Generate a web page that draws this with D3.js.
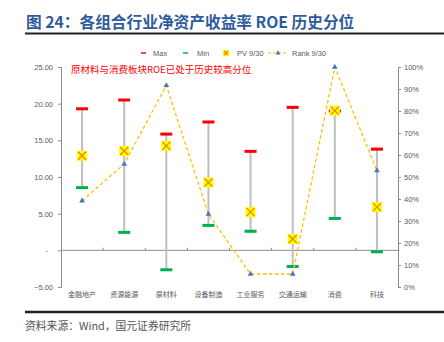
<!DOCTYPE html>
<html><head><meta charset="utf-8">
<script src="https://cdn.jsdelivr.net/npm/d3@7"></script>
<style>body{margin:0;background:#fff;}svg{display:block;}</style>
</head><body>
<svg id="c" width="444" height="342"></svg>
<script>
const categories = ["金融地产","资源能源","原材料","设备制造","工业服务","交通运输","消费","科技"];
const maxVals = [19.3, 20.5, 15.85, 17.5, 13.5, 19.5, 19.0, 13.8];
const minVals = [8.55, 2.45, -2.65, 3.4, 2.6, -2.2, 4.35, -0.2];
const pvVals = [12.9, 13.55, 14.25, 9.25, 5.2, 1.55, 19.05, 5.9];
const rankVals = [0.392, 0.559, 0.916, 0.331, 0.059, 0.059, 1.0, 0.529];
const leftTicks = [-5, 0, 5, 10, 15, 20, 25];
const rightTicks = [0, 0.1, 0.2, 0.3, 0.4, 0.5, 0.6, 0.7, 0.8, 0.9, 1.0];

const svg = d3.select("#c");
const latin = "'Liberation Sans', Arial, sans-serif";
const cjk = "'Noto Sans CJK SC', sans-serif";
const gray = "#595959";

const x = d3.scaleBand().domain(categories).range([61, 398]);
const y = d3.scaleLinear().domain([-5, 25]).range([287, 67]);
const yr = d3.scaleLinear().domain([0, 1]).range([287, 67]);
const cx = d => x(d) + x.bandwidth() / 2;

// title
svg.append("text").attr("x", 26).attr("y", 28).attr("font-family", cjk).attr("font-weight", "bold")
  .attr("font-size", 15.7).attr("fill", "#2E5B9C").text("图 24：各组合行业净资产收益率 ROE 历史分位");
svg.append("line").attr("x1", 25).attr("x2", 444).attr("y1", 33.5).attr("y2", 33.5).attr("stroke", "#222").attr("stroke-width", 2);

// bottom
svg.append("line").attr("x1", 25).attr("x2", 444).attr("y1", 312).attr("y2", 312).attr("stroke", "#222").attr("stroke-width", 2.5);
svg.append("text").attr("x", 25).attr("y", 330).attr("font-family", cjk).attr("font-size", 10.8).attr("fill", "#555")
  .text("资料来源：Wind，国元证券研究所");

// axes
const la = svg.append("g").attr("transform", "translate(61,0)")
  .call(d3.axisLeft(y).tickValues(leftTicks).tickSize(3).tickPadding(5)
    .tickFormat(d => d === 0 ? "-" : d3.format(".2f")(d)));
const ra = svg.append("g").attr("transform", "translate(398,0)")
  .call(d3.axisRight(yr).tickValues(rightTicks).tickSize(3).tickPadding(3).tickFormat(d3.format(".0%")));
[la, ra].forEach(g => {
  g.select(".domain").attr("stroke", "#8c8c8c");
  g.selectAll(".tick line").attr("stroke", "#8c8c8c");
  g.selectAll(".tick text").attr("font-family", latin).attr("font-size", 7.5).attr("fill", gray);
});
la.selectAll(".tick text").attr("dx", d => d === 0 ? -5 : 0);

// x axis line at 0
svg.append("line").attr("x1", 61).attr("x2", 398).attr("y1", y(0)).attr("y2", y(0)).attr("stroke", "#8c8c8c");
svg.append("g").selectAll("line").data(categories.slice(1)).join("line")
  .attr("x1", d => x(d)).attr("x2", d => x(d)).attr("y1", y(0) - 2.5).attr("y2", y(0)).attr("stroke", "#8c8c8c");
svg.append("g").selectAll("text").data(categories).join("text")
  .attr("x", d => cx(d)).attr("y", 297).attr("text-anchor", "middle")
  .attr("font-family", cjk).attr("font-size", 7).attr("fill", gray).text(d => d);

// whiskers
const data = categories.map((c, i) => ({c, max: maxVals[i], min: minVals[i], pv: pvVals[i], rank: rankVals[i]}));
svg.append("g").selectAll("line").data(data).join("line")
  .attr("x1", d => cx(d.c)).attr("x2", d => cx(d.c)).attr("y1", d => y(d.max)).attr("y2", d => y(d.min))
  .attr("stroke", "#BFBFBF").attr("stroke-width", 2);
svg.append("g").selectAll("rect").data(data).join("rect")
  .attr("x", d => cx(d.c) - 6).attr("y", d => y(d.max) - 1.5).attr("width", 12).attr("height", 3).attr("fill", "#FF0000");
svg.append("g").selectAll("rect").data(data).join("rect")
  .attr("x", d => cx(d.c) - 6).attr("y", d => y(d.min) - 1.5).attr("width", 12).attr("height", 3).attr("fill", "#00B050");

// rank line
const line = d3.line().x(d => cx(d.c)).y(d => yr(d.rank));
svg.append("path").datum(data).attr("d", line).attr("fill", "none").attr("stroke", "#FFC000")
  .attr("stroke-width", 1.3).attr("stroke-dasharray", "3.5,2.5");
const tri = d3.symbol().type(d3.symbolTriangle).size(14);
svg.append("g").selectAll("path").data(data).join("path")
  .attr("transform", d => `translate(${cx(d.c)},${yr(d.rank)})`).attr("d", tri).attr("fill", "#4472C4");

// PV markers
function pvMarker(g, px, py, s) {
  g.append("rect").attr("x", px - s / 2).attr("y", py - s / 2).attr("width", s).attr("height", s).attr("fill", "#FFFF00");
  const h = s / 2 - 1;
  g.append("path").attr("d", `M${px - h},${py - h}L${px + h},${py + h}M${px + h},${py - h}L${px - h},${py + h}`)
    .attr("stroke", "#F08000").attr("stroke-width", 1.2);
}
const pg = svg.append("g");
data.forEach(d => pvMarker(pg, cx(d.c), y(d.pv), 10));

// annotation
svg.append("text").attr("x", 71).attr("y", 73).attr("font-family", cjk).attr("font-size", 9.5).attr("fill", "#FF0000")
  .text("原材料与消费板块ROE已处于历史较高分位");

// legend
const lg = svg.append("g").attr("font-family", latin).attr("font-size", 7.5).attr("fill", gray);
const ly = 53;
lg.append("line").attr("x1", 141).attr("x2", 146).attr("y1", ly).attr("y2", ly).attr("stroke", "#FF0000").attr("stroke-width", 1.5);
lg.append("text").attr("x", 153).attr("y", ly + 2.7).text("Max");
lg.append("line").attr("x1", 183).attr("x2", 188).attr("y1", ly).attr("y2", ly).attr("stroke", "#00B050").attr("stroke-width", 1.5);
lg.append("text").attr("x", 197).attr("y", ly + 2.7).text("Min");
pvMarker(lg, 226, ly, 6);
lg.append("text").attr("x", 237).attr("y", ly + 2.7).text("PV 9/30");
lg.append("line").attr("x1", 268).attr("x2", 288).attr("y1", ly).attr("y2", ly).attr("stroke", "#FFC000").attr("stroke-width", 1.2).attr("stroke-dasharray", "3,2");
lg.append("path").attr("transform", `translate(278,${ly})`).attr("d", d3.symbol().type(d3.symbolTriangle).size(10)).attr("fill", "#4472C4");
lg.append("text").attr("x", 292).attr("y", ly + 2.7).text("Rank 9/30");
</script>
</body></html>
